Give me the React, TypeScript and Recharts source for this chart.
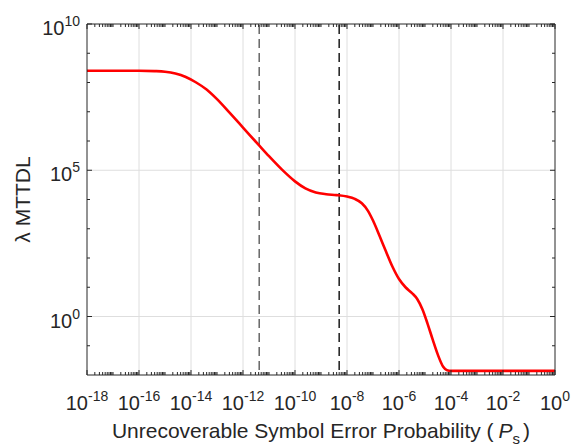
import { Label, Line, LineChart, ReferenceLine, XAxis, YAxis } from "recharts";

// exponents (Ps = 10^x, lambda*MTTDL = 10^y)
const psExp = [-18, -16, -15.4, -15.0, -14.6, -14.2, -13.8, -13.4, -13.0, -12.5, -12.0, -11.38, -11.0, -10.5, -10.0, -9.6, -9.2, -8.8, -8.4, -8.0, -7.7, -7.43, -7.2, -7.0, -6.75, -6.5, -6.25, -6.0, -5.75, -5.5, -5.3, -5.1, -4.9, -4.7, -4.5, -4.3, -4.15, -4.0, -2, 0];
const mttdlExp = [8.4, 8.4, 8.39, 8.37, 8.31, 8.19, 8.0, 7.76, 7.43, 6.95, 6.46, 5.85, 5.48, 5.02, 4.62, 4.38, 4.24, 4.18, 4.15, 4.1, 4.02, 3.87, 3.62, 3.28, 2.76, 2.22, 1.7, 1.28, 1.0, 0.8, 0.6, 0.25, -0.25, -0.8, -1.32, -1.72, -1.84, -1.86, -1.86, -1.86];

const xMajorExp = [-18, -16, -14, -12, -10, -8, -6, -4, -2, 0];
const yMajorExp = [0, 5, 10];
const markers = [4.2e-12, 5e-9];

const data = psExp.map((e, i) => ({ ps: 10 ** e, mttdl: 10 ** mttdlExp[i] }));

const xTicks: number[] = [];
for (let n = -18; n <= 0; n++) {
  xTicks.push(10 ** n);
  if (n < 0) for (let k = 2; k <= 9; k++) xTicks.push(k * 10 ** n);
}
const yTicks: number[] = [];
for (let n = -1; n <= 10; n++) yTicks.push(10 ** n);

const ink = "#262626";
const font = "'Liberation Sans', Arial, sans-serif";
const xDomain = [1e-18, 1];
const yDomain = [1e-2, 1e10];

function majorExp(v: number, majors: number[]) {
  const e = Math.log10(v);
  const r = Math.round(e);
  return Math.abs(e - r) < 1e-6 && majors.includes(r) ? r : null;
}

function exp10(e: number, x: number, y: number, anchor: string) {
  return (
    <text x={x} y={y} textAnchor={anchor} fill={ink} fontSize={20} fontFamily={font}>
      <tspan>10</tspan>
      <tspan dy={-9} fontSize={14}>{e}</tspan>
    </text>
  );
}

function makeTick(side: "bottom" | "top" | "left" | "right") {
  return (props: any) => {
    const { x, y, payload } = props;
    const horizontal = side === "bottom" || side === "top";
    const e = majorExp(payload.value, horizontal ? xMajorExp : yMajorExp);
    const len = e !== null ? 5 : 3;
    let line;
    if (side === "bottom") line = <line x1={x} x2={x} y1={y} y2={y - len} stroke={ink} />;
    else if (side === "top") line = <line x1={x} x2={x} y1={y} y2={y + len} stroke={ink} />;
    else if (side === "left") line = <line x1={x} x2={x + len} y1={y} y2={y} stroke={ink} />;
    else line = <line x1={x} x2={x - len} y1={y} y2={y} stroke={ink} />;
    return (
      <g>
        {line}
        {e !== null && side === "bottom" && exp10(e, x, y + 35, "middle")}
        {e !== null && side === "left" && exp10(e, x - 7, y + 11, "end")}
      </g>
    );
  };
}

const common = {
  type: "number" as const,
  scale: "log" as const,
  allowDataOverflow: true,
  interval: 0,
  tickSize: 0,
  tickMargin: 0,
  tickLine: false,
  axisLine: { stroke: ink },
};

export default function App() {
  return (
    <div style={{ position: "absolute", left: 0, top: 0, background: "#fff", fontFamily: font }}>
      <LineChart width={574} height={446} data={data} margin={{ top: 23, right: 18, bottom: 70, left: 86 }}>
        <XAxis {...common} xAxisId="x" dataKey="ps" domain={xDomain} ticks={xTicks} height={1} tick={makeTick("bottom")}>
          <Label
            content={({ viewBox }: any) => (
              <text x={viewBox.x + viewBox.width / 2} y={viewBox.y + 63} textAnchor="middle" fill={ink} fontSize={21} fontFamily={font}>
                Unrecoverable Symbol Error Probability (<tspan dx={5} fontStyle="italic">P</tspan>
                <tspan dy={6} fontSize={15}>s</tspan>
                <tspan dy={-6} dx={3}>)</tspan>
              </text>
            )}
          />
        </XAxis>
        <XAxis {...common} xAxisId="xt" orientation="top" dataKey="ps" domain={xDomain} ticks={xTicks} height={1} tick={makeTick("top")} />
        <YAxis {...common} yAxisId="y" domain={yDomain} ticks={yTicks} width={1} tick={makeTick("left")}>
          <Label
            content={({ viewBox }: any) => {
              const cx = 30;
              const cy = viewBox.y + viewBox.height / 2;
              return (
                <text x={cx} y={cy} transform={`rotate(-90 ${cx} ${cy})`} textAnchor="middle" fill={ink} fontSize={21} fontFamily={font}>
                  λ MTTDL
                </text>
              );
            }}
          />
        </YAxis>
        <YAxis {...common} yAxisId="yr" orientation="right" domain={yDomain} ticks={yTicks} width={1} tick={makeTick("right")} />
        {xMajorExp.slice(1, -1).map((e) => (
          <ReferenceLine key={"gx" + e} xAxisId="x" yAxisId="y" x={10 ** e} stroke="#dedede" />
        ))}
        {yMajorExp.slice(0, -1).map((e) => (
          <ReferenceLine key={"gy" + e} xAxisId="x" yAxisId="y" y={10 ** e} stroke="#dedede" />
        ))}
        <ReferenceLine xAxisId="x" yAxisId="y" x={markers[0]} stroke="#666666" strokeWidth={1.5} strokeDasharray="9 5" strokeDashoffset={-5} />
        <ReferenceLine xAxisId="x" yAxisId="y" x={markers[1]} stroke="#1a1a1a" strokeWidth={1.5} strokeDasharray="9 5" strokeDashoffset={-5} />
        <Line xAxisId="x" yAxisId="y" type="monotone" dataKey="mttdl" stroke="#ff0000" strokeWidth={2.6} dot={false} isAnimationActive={false} />
      </LineChart>
    </div>
  );
}
